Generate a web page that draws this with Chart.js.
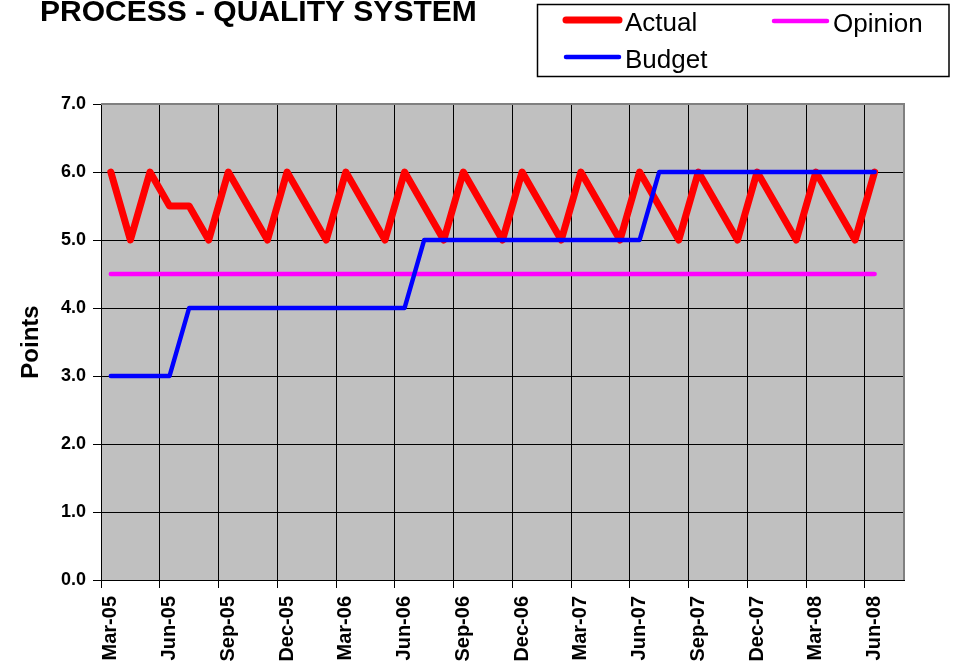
<!DOCTYPE html>
<html>
<head>
<meta charset="utf-8">
<script src="https://cdn.jsdelivr.net/npm/chart.js@4"></script>
<style>
  body { margin: 0; background: #fff; }
  #wrap { width: 955px; height: 666px; }
</style>
</head>
<body>
<div id="wrap"><canvas id="chart" width="955" height="666"></canvas></div>
<script>
// month categories (Jul-08 is an empty trailing slot on the axis)
const months = [
  'Mar-05', 'Apr-05', 'May-05', 'Jun-05', 'Jul-05', 'Aug-05', 'Sep-05', 'Oct-05', 'Nov-05', 'Dec-05',
  'Jan-06', 'Feb-06', 'Mar-06', 'Apr-06', 'May-06', 'Jun-06', 'Jul-06', 'Aug-06', 'Sep-06', 'Oct-06',
  'Nov-06', 'Dec-06', 'Jan-07', 'Feb-07', 'Mar-07', 'Apr-07', 'May-07', 'Jun-07', 'Jul-07', 'Aug-07',
  'Sep-07', 'Oct-07', 'Nov-07', 'Dec-07', 'Jan-08', 'Feb-08', 'Mar-08', 'Apr-08', 'May-08', 'Jun-08',
  'Jul-08'
];

// actual score, blank months are just bridged by the line
const actual = [
  6, 5, 6, 5.5, 5.5, 5, 6, null, 5, 6,
  null, 5, 6, null, 5, 6, null, 5, 6, null,
  5, 6, null, 5, 6, null, 5, 6, null, 5,
  6, null, 5, 6, null, 5, 6, null, 5, 6
];

const opinion = [
  4.5, 4.5, 4.5, 4.5, 4.5, 4.5, 4.5, 4.5, 4.5, 4.5,
  4.5, 4.5, 4.5, 4.5, 4.5, 4.5, 4.5, 4.5, 4.5, 4.5,
  4.5, 4.5, 4.5, 4.5, 4.5, 4.5, 4.5, 4.5, 4.5, 4.5,
  4.5, 4.5, 4.5, 4.5, 4.5, 4.5, 4.5, 4.5, 4.5, 4.5
];

const budget = [
  3, 3, 3, 3, 4, 4, 4, 4, 4, 4,
  4, 4, 4, 4, 4, 4, 5, 5, 5, 5,
  5, 5, 5, 5, 5, 5, 5, 5, 6, 6,
  6, 6, 6, 6, 6, 6, 6, 6, 6, 6
];

const yTicks = [0, 1, 2, 3, 4, 5, 6, 7];

const FONT = '"Liberation Sans", Arial, sans-serif';

// grey plot area + the grey top/right frame
const plotBg = {
  id: 'plotBg',
  beforeDraw(chart) {
    const { ctx, chartArea: a } = chart;
    ctx.save();
    ctx.fillStyle = '#C0C0C0';
    ctx.fillRect(a.left, a.top, a.right - a.left, a.bottom - a.top);
    ctx.restore();
  },
  beforeDatasetsDraw(chart) {
    const { ctx, chartArea: a } = chart;
    ctx.save();
    ctx.strokeStyle = '#808080';
    ctx.lineWidth = 2;
    ctx.beginPath();
    ctx.moveTo(a.left, a.top);
    ctx.lineTo(a.right, a.top);
    ctx.lineTo(a.right, a.bottom);
    ctx.stroke();
    ctx.restore();
  }
};

// title and the boxed legend in the top right
const header = {
  id: 'header',
  afterDraw(chart) {
    const ctx = chart.ctx;
    const ds = chart.data.datasets;
    ctx.save();
    ctx.fillStyle = '#000';
    ctx.textBaseline = 'alphabetic';
    ctx.font = 'bold 30px ' + FONT;
    ctx.fillText('PROCESS - QUALITY SYSTEM', 40, 21);

    ctx.strokeStyle = '#000';
    ctx.lineWidth = 1.5;
    ctx.strokeRect(537.5, 4.5, 411.5, 72);

    const items = [
      { d: ds[0], x: 566, y: 20, w: 7 },
      { d: ds[1], x: 774, y: 21, w: 4.5 },
      { d: ds[2], x: 566, y: 57, w: 4.5 }
    ];
    ctx.font = '26px ' + FONT;
    ctx.lineCap = 'round';
    items.forEach(it => {
      ctx.strokeStyle = it.d.borderColor;
      ctx.lineWidth = it.w;
      ctx.beginPath();
      ctx.moveTo(it.x, it.y);
      ctx.lineTo(it.x + 53, it.y);
      ctx.stroke();
      ctx.fillStyle = '#000';
      ctx.fillText(it.d.label, it.x + 59, it.y + 11);
    });
    ctx.restore();
  }
};

const lineStyle = {
  pointRadius: 0,
  pointHoverRadius: 0,
  tension: 0,
  borderCapStyle: 'round',
  borderJoinStyle: 'round',
  spanGaps: true
};

new Chart(document.getElementById('chart'), {
  type: 'line',
  data: {
    labels: months,
    datasets: [
      { label: 'Actual', data: actual, borderColor: '#FF0000', borderWidth: 7, order: 3, ...lineStyle },
      { label: 'Opinion', data: opinion, borderColor: '#FF00FF', borderWidth: 4.5, order: 2, ...lineStyle },
      { label: 'Budget', data: budget, borderColor: '#0000FF', borderWidth: 4.5, order: 1, ...lineStyle }
    ]
  },
  options: {
    responsive: false,
    animation: false,
    devicePixelRatio: 1,
    layout: { padding: { top: 104, right: 51, bottom: 0, left: 0 } },
    plugins: {
      legend: { display: false },
      title: { display: false },
      tooltip: { enabled: false }
    },
    scales: {
      x: {
        type: 'category',
        offset: true,
        afterFit: s => { s.height = 86; },
        grid: {
          offset: true,
          drawOnChartArea: true,
          tickLength: 8,
          lineWidth: 1,
          color: c => (c.type === 'tick' && c.index % 3 === 0) ? '#000' : 'rgba(0,0,0,0)'
        },
        border: { display: true, color: '#000', width: 1 },
        ticks: {
          autoSkip: false,
          maxRotation: 90,
          minRotation: 90,
          padding: 8,
          color: '#000',
          font: { family: FONT, size: 20, weight: 'bold' },
          callback: (v, i) => (i % 3 === 0 ? months[i] : '')
        }
      },
      y: {
        min: yTicks[0],
        max: yTicks[yTicks.length - 1],
        afterFit: s => { s.width = 101; },
        afterBuildTicks: s => { s.ticks = yTicks.map(v => ({ value: v })); },
        grid: {
          tickLength: 8,
          lineWidth: 1,
          color: '#000',
          tickColor: '#000'
        },
        border: { display: true, color: '#000', width: 1 },
        ticks: {
          padding: 7,
          color: '#000',
          font: { family: FONT, size: 18, weight: 'bold' },
          callback: v => Number(v).toFixed(1)
        },
        title: {
          display: true,
          text: 'Points',
          color: '#000',
          padding: { top: 17, bottom: 0 },
          font: { family: FONT, size: 24, weight: 'bold' }
        }
      }
    }
  },
  plugins: [plotBg, header]
});
</script>
</body>
</html>
